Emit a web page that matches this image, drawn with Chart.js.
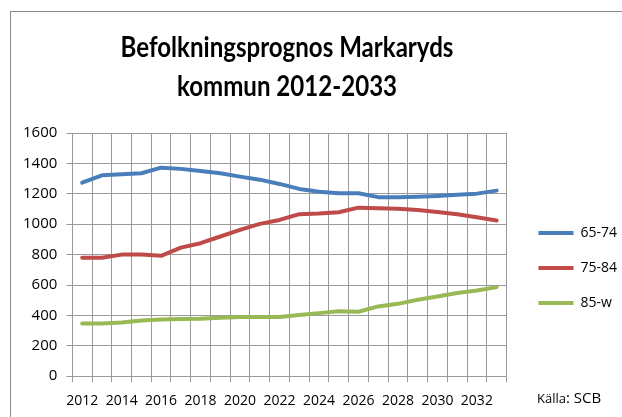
<!DOCTYPE html>
<html>
<head>
<meta charset="utf-8">
<script src="https://cdn.jsdelivr.net/npm/chart.js@4"></script>
<style>
  html, body { margin: 0; padding: 0; background: #fff; overflow: hidden; }
  #wrap { position: relative; width: 622px; height: 417px; }
  #frame { position: absolute; left: 10px; top: 11px; width: 700px; height: 500px; border: 1px solid #888; }
  #title { position: absolute; left: 0; top: 27px; width: 574px; text-align: center;
    font-family: Lato, "Open Sans", sans-serif; font-weight: bold;
    font-size: 28px; line-height: 39px; color: #000;
    transform: scaleX(0.86); transform-origin: 287px 0; }
  #source { position: absolute; left: 537px; top: 386px; font-family: "Open Sans", sans-serif; color: #000; white-space: nowrap; }
  #source .small { font-size: 13px; }
  #source .big { font-size: 15px; }
  canvas { position: absolute; left: 0; top: 0; }
</style>
</head>
<body>
<div id="wrap">
  <div id="frame"></div>
  <canvas id="myChart" width="622" height="417"></canvas>
  <div id="title">Befolkningsprognos Markaryds<br>kommun 2012-2033</div>
  <div id="source"><span class="small">Källa</span><span class="big">: SCB</span></div>
</div>
<script>
const years = ["2012", "2013", "2014", "2015", "2016", "2017", "2018", "2019", "2020", "2021", "2022",
  "2023", "2024", "2025", "2026", "2027", "2028", "2029", "2030", "2031", "2032", "2033"];
const age65to74 = [1273, 1322, 1329, 1335, 1372, 1364, 1350, 1335, 1313, 1293, 1265,
  1232, 1214, 1204, 1204, 1178, 1178, 1181, 1186, 1193, 1201, 1221];
const age75to84 = [779, 779, 800, 800, 792, 846, 875, 919, 963, 1002, 1028,
  1066, 1070, 1079, 1109, 1105, 1101, 1094, 1081, 1066, 1046, 1024];
const age85up = [347, 347, 354, 367, 373, 376, 378, 384, 389, 389, 389,
  402, 415, 428, 424, 459, 476, 503, 524, 547, 564, 586];

const gridColor = "#9a9a9a";

function series(label, data, color) {
  return {
    label: label,
    data: data,
    borderColor: color,
    backgroundColor: color,
    borderWidth: 4,
    borderJoinStyle: "round",
    borderCapStyle: "round",
    pointRadius: 0,
    pointHoverRadius: 0,
    pointStyle: "line",
    pointBorderColor: color,
    pointBorderWidth: 4,
    tension: 0,
  };
}

// nudge the legend a bit away from the plot, like the original
const legendShift = {
  id: "legendShift",
  afterLayout(chart) {
    const lg = chart.legend;
    lg.left += 11;
    lg.right += 11;
    lg.top -= 8;
    lg.bottom -= 8;
  },
};

const ctx = document.getElementById("myChart");
const chart = new Chart(ctx, {
  type: "line",
  data: {
    labels: years,
    datasets: [
      series("65-74", age65to74, "#4a7ebb"),
      series("75-84", age75to84, "#be4b48"),
      series("85-w", age85up, "#98b954"),
    ],
  },
  options: {
    responsive: false,
    animation: false,
    layout: { padding: { left: 14, top: 133, bottom: -2, right: 6 } },
    plugins: {
      title: { display: false },
      tooltip: { enabled: false },
      legend: {
        position: "right",
        labels: {
          usePointStyle: true,
          pointStyleWidth: 35,
          padding: 21,
          color: "#000",
          font: { family: "Open Sans", size: 14 },
        },
      },
    },
    scales: {
      x: {
        offset: true,
        grid: { offset: true, color: gridColor, tickLength: 6, lineWidth: 1 },
        border: { color: gridColor },
        ticks: {
          autoSkip: false,
          maxRotation: 0,
          padding: 10,
          color: "#000",
          font: { family: "Open Sans", size: 14 },
          callback: (v, i) => (i % 2 === 0 ? years[i] : ""),
        },
      },
      y: {
        min: 0,
        max: 1600,
        grid: { color: gridColor, tickLength: 6, lineWidth: 1 },
        border: { color: gridColor },
        ticks: {
          stepSize: 200,
          padding: 9,
          color: "#000",
          font: { family: "Open Sans", size: 15 },
          callback: (v) => String(v),
        },
      },
    },
  },
  plugins: [legendShift],
});
</script>
</body>
</html>
